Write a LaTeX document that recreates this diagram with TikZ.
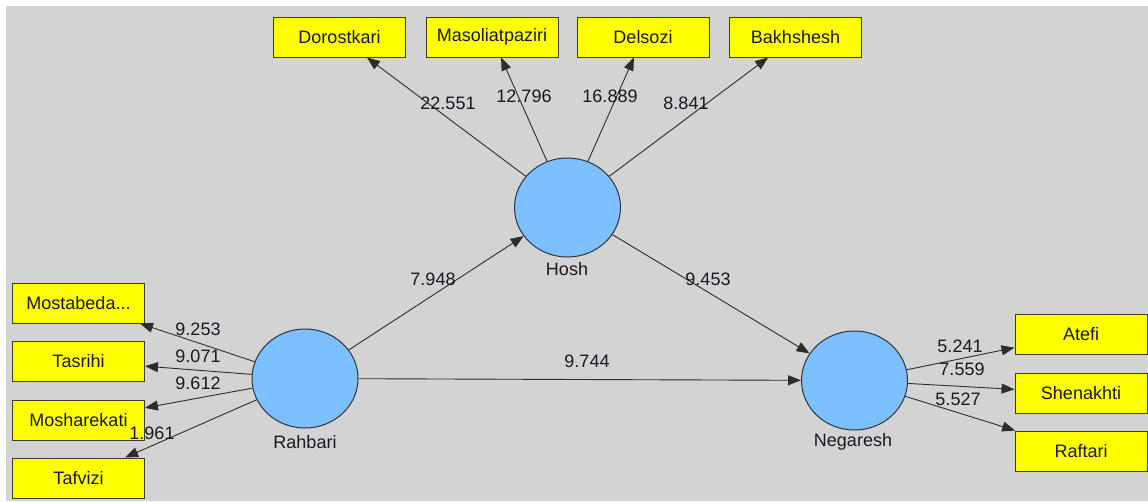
\documentclass[tikz,border=0pt]{standalone}
\usepackage{fontspec}
\setmainfont{Liberation Sans}
\usetikzlibrary{arrows.meta,shapes.geometric}
\definecolor{canvas}{RGB}{211,211,211}
\definecolor{boxfill}{RGB}{255,255,0}
\definecolor{boxline}{RGB}{60,60,40}
\definecolor{lvfill}{RGB}{125,192,255}
\definecolor{lvline}{RGB}{50,50,60}
\definecolor{wire}{RGB}{45,45,45}
\definecolor{ink}{RGB}{25,25,35}
\begin{document}
\begin{tikzpicture}[x=1pt,y=-1pt,
  txt/.style={font=\fontsize{18}{20}\selectfont,text=ink,inner sep=0pt},
  indicator/.style={txt,draw=boxline,fill=boxfill,line width=1pt,
    minimum width=132pt,minimum height=40pt},
  latent/.style={ellipse,draw=lvline,fill=lvfill,line width=1pt,
    minimum width=106pt,minimum height=99pt,inner sep=0pt},
  coef/.style={txt},
  arr/.style={draw=wire,line width=0.9pt,-{Triangle[length=13pt,width=10pt]}},
]
\useasboundingbox (0,0) rectangle (1148,501);
\fill[white] (0,0) rectangle (1148,501);
\fill[canvas] (6,6) rectangle (1148,501);

% latent variables
\node[latent] (hosh) at (567.5,207.5) {};
\node[latent] (rahbari) at (305,378.5) {};
\node[latent] (negaresh) at (854.5,380.5) {};
\node[txt] (hoshlbl) at (567,269) {Hosh};
\node[txt] (rahbarilbl) at (305,442) {Rahbari};
\node[txt] (negareshlbl) at (853,442) {Negaresh};

% indicators of Hosh
\node[indicator] (dor) at (339.5,37) {Dorostkari};
\node[indicator] (mas) at (492,37) {Masoliatpaziri};
\node[indicator] (del) at (643,37) {Delsozi};
\node[indicator] (bak) at (795.5,37) {Bakhshesh};

% indicators of Rahbari
\node[indicator] (mos) at (78.5,303) {Mostabeda...};
\node[indicator] (tas) at (78.5,361) {Tasrihi};
\node[indicator] (msh) at (78.5,420) {Mosharekati};
\node[indicator] (taf) at (78.5,478) {Tafvizi};

% indicators of Negaresh
\node[indicator] (ate) at (1081,334) {Atefi};
\node[indicator] (she) at (1081,393) {Shenakhti};
\node[indicator] (raf) at (1081,451) {Raftari};

% connectors
\draw[arr] (hosh) -- (dor);
\draw[arr] (hosh) -- (mas);
\draw[arr] (hosh) -- (del);
\draw[arr] (hosh) -- (bak);
\draw[arr] (rahbari) -- (mos);
\draw[arr] (rahbari) -- (tas);
\draw[arr] (rahbari) -- (msh);
\draw[arr] (rahbari) -- (taf);
\draw[arr] (negaresh) -- (ate);
\draw[arr] (negaresh) -- (she);
\draw[arr] (negaresh) -- (raf);
\draw[arr] (rahbari) -- (hosh);
\draw[arr] (hosh) -- (negaresh);
\draw[arr] (rahbari) -- (negaresh);

% path coefficients
\node[coef] (c1) at (448,103) {22.551};
\node[coef] (c2) at (524,96) {12.796};
\node[coef] (c3) at (610,96) {16.889};
\node[coef] (c4) at (686,103) {8.841};
\node[coef] (c5) at (433,279) {7.948};
\node[coef] (c6) at (708,279) {9.453};
\node[coef] (c7) at (587,361) {9.744};
\node[coef] (c8) at (198,329) {9.253};
\node[coef] (c9) at (198,356) {9.071};
\node[coef] (c10) at (198,383) {9.612};
\node[coef] (c11) at (152,433) {1.961};
\node[coef] (c12) at (960,346) {5.241};
\node[coef] (c13) at (962,369) {7.559};
\node[coef] (c14) at (958,399) {5.527};
\end{tikzpicture}
\end{document}
